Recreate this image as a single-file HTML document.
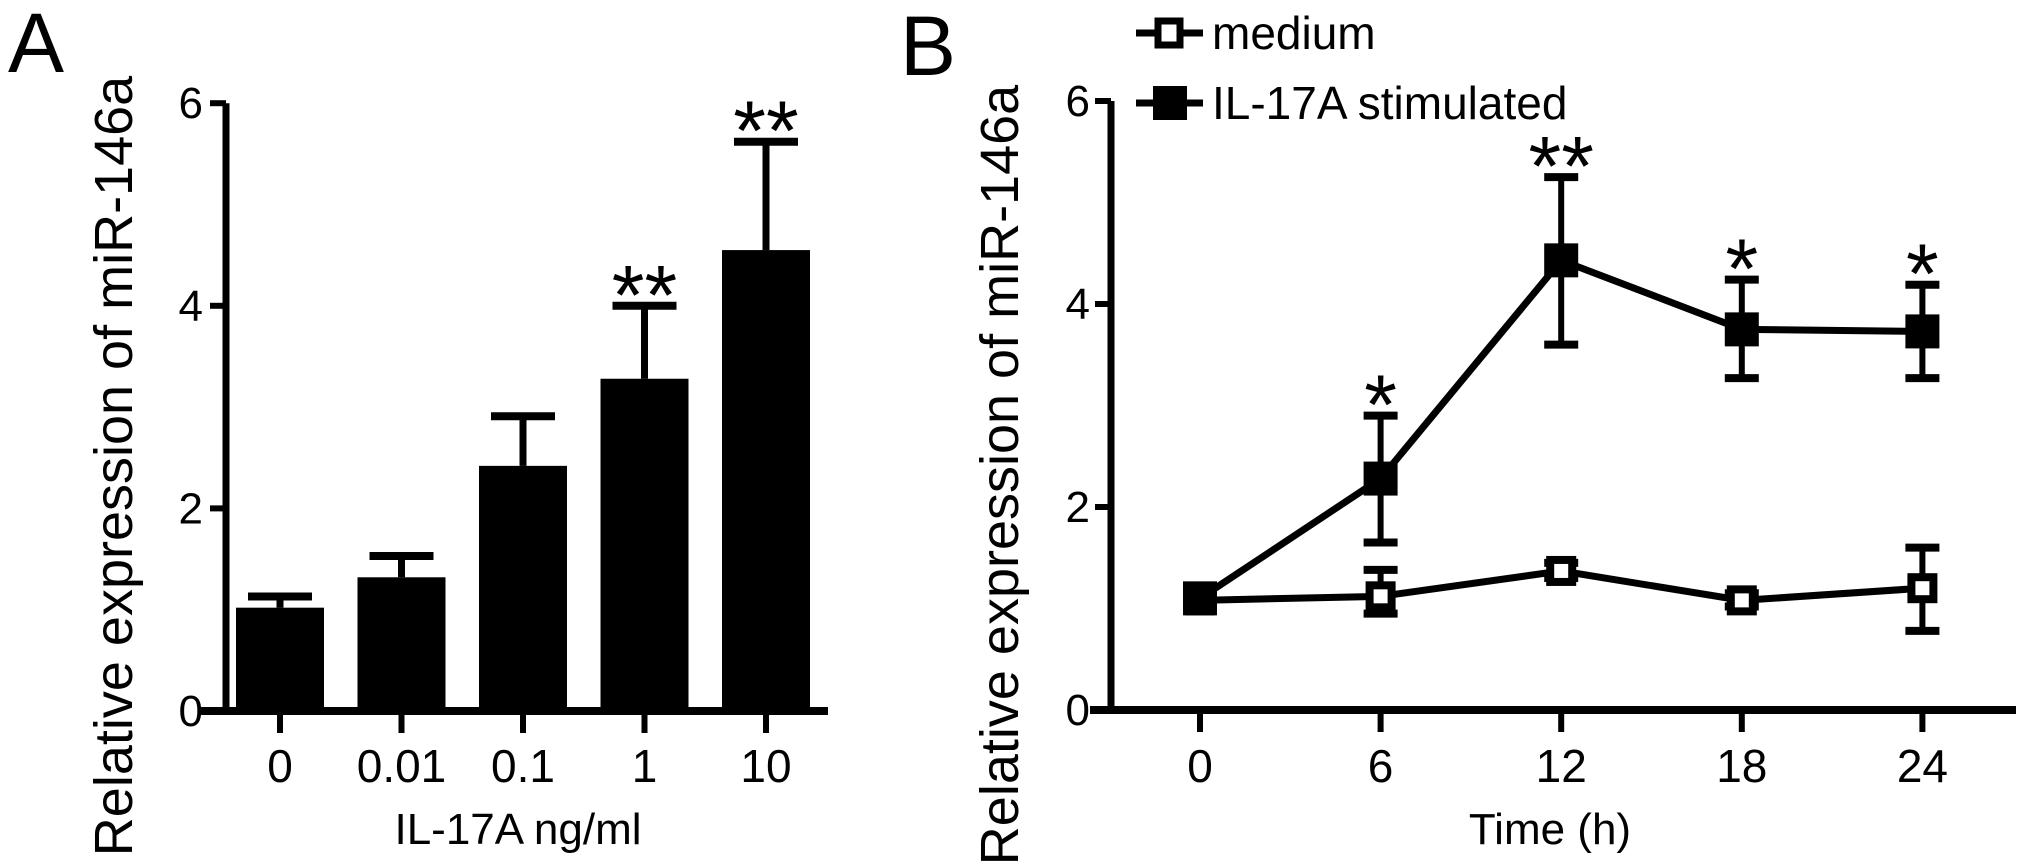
<!DOCTYPE html>
<html><head><meta charset="utf-8"><style>
html,body{margin:0;padding:0;background:#fff}
svg{display:block}
text{font-family:"Liberation Sans",Arial,sans-serif;fill:#000}
</style></head><body>
<svg id="fig" width="2031" height="865" viewBox="0 0 2031 865" xmlns="http://www.w3.org/2000/svg">
<text x="8" y="72" font-size="84">A</text>
<text x="900" y="75" font-size="84">B</text>
<g id="pa"></g>
<g id="pb"></g>
</svg>
<script>
// Panel A data
const aCategories = ["0","0.01","0.1","1","10"];
const aValues = [1.02, 1.32, 2.42, 3.28, 4.55];
const aErrTop = [1.13, 1.53, 2.91, 4.0, 5.62];
const aSig = ["", "", "", "**", "**"];
const yTicks = [0, 2, 4, 6];
// Panel B data
const bTimes = [0, 6, 12, 18, 24];
const bMedium = [1.08, 1.12, 1.37, 1.08, 1.2];
const bMediumLo = [1.08, 0.95, 1.3, 1.02, 0.78];
const bMediumHi = [1.08, 1.38, 1.45, 1.15, 1.6];
const bStim = [1.1, 2.28, 4.43, 3.75, 3.73];
const bStimLo = [1.1, 1.65, 3.6, 3.27, 3.27];
const bStimHi = [1.1, 2.9, 5.25, 4.24, 4.19];
const bSig = ["", "*", "**", "*", "*"];

const NS = "http://www.w3.org/2000/svg";
function mk(parent, tag, attrs, txt){
  const e = document.createElementNS(NS, tag);
  for (const k in attrs) e.setAttribute(k, attrs[k]);
  if (txt !== undefined) e.textContent = txt;
  parent.appendChild(e); return e;
}
// ---------- Panel A ----------
const pa = document.getElementById('pa');
const ayA = v => 711 - v * 101.3;
const axA = i => 280 + i * 121.5;
let e;
e = mk(pa,'line',{x1:226,y1:ayA(6),x2:226,y2:ayA(0)+3,stroke:'#000','stroke-width':7});
 
e = mk(pa,'line',{x1:200,y1:ayA(0),x2:828,y2:ayA(0),stroke:'#000','stroke-width':8});
 
yTicks.forEach(t=>{
  e = mk(pa,'line',{x1:210,y1:ayA(t),x2:226,y2:ayA(t),stroke:'#000','stroke-width':6});
   
  e = mk(pa,'text',{x:203,y:ayA(t)+15,'font-size':44,'text-anchor':'end'},String(t));
   
});
aCategories.forEach((c,i)=>{
  const x = axA(i);
  e = mk(pa,'line',{x1:x,y1:ayA(0),x2:x,y2:ayA(0)+22,stroke:'#000','stroke-width':6});
   
  e = mk(pa,'text',{x:x,y:782,'font-size':46,'text-anchor':'middle'},c);
   
  e = mk(pa,'line',{x1:x,y1:ayA(aErrTop[i]),x2:x,y2:ayA(aValues[i]),stroke:'#000','stroke-width':7});
   
  e = mk(pa,'line',{x1:x-32,y1:ayA(aErrTop[i]),x2:x+32,y2:ayA(aErrTop[i]),stroke:'#000','stroke-width':8});
   
  e = mk(pa,'rect',{x:x-44,y:ayA(aValues[i]),width:88,height:ayA(0)-ayA(aValues[i]),fill:'#000'});
   
  if (aSig[i]) {
    e = mk(pa,'text',{x:x,y:ayA(aErrTop[i])+18,'font-size':84,'text-anchor':'middle'},aSig[i]);
     
  }
});
e = mk(pa,'text',{x:0,y:0,'font-size':54,'text-anchor':'middle',transform:'translate(132,466) rotate(-90)'},'Relative expression of miR-146a');
 
e = mk(pa,'text',{x:518,y:844,'font-size':44,'text-anchor':'middle'},'IL-17A ng/ml');
 

// ---------- Panel B ----------
const pb = document.getElementById('pb');
const ayB = v => 710 - v * 101.5;
const axB = t => 1200 + t * 30.1;
e = mk(pb,'line',{x1:1111,y1:ayB(6),x2:1111,y2:ayB(0)+3,stroke:'#000','stroke-width':7});
 
e = mk(pb,'line',{x1:1090,y1:ayB(0),x2:2016,y2:ayB(0),stroke:'#000','stroke-width':8});
 
yTicks.forEach(t=>{
  e = mk(pb,'line',{x1:1095,y1:ayB(t),x2:1111,y2:ayB(t),stroke:'#000','stroke-width':6});
   
  e = mk(pb,'text',{x:1090,y:ayB(t)+15,'font-size':44,'text-anchor':'end'},String(t));
   
});
bTimes.forEach(t=>{
  const x = axB(t);
  e = mk(pb,'line',{x1:x,y1:ayB(0),x2:x,y2:ayB(0)+22,stroke:'#000','stroke-width':6});
   
  e = mk(pb,'text',{x:x,y:782,'font-size':46,'text-anchor':'middle'},String(t));
   
});
function series(vals, lo, hi, filled, name){
  const pts = bTimes.map((t,i)=>axB(t)+','+ayB(vals[i])).join(' ');
  e = mk(pb,'polyline',{points:pts,fill:'none',stroke:'#000','stroke-width':7,'stroke-linejoin':'miter'});
   
  bTimes.forEach((t,i)=>{
    const x = axB(t);
    if (hi[i] !== lo[i]) {
      e = mk(pb,'line',{x1:x,y1:ayB(hi[i]),x2:x,y2:ayB(lo[i]),stroke:'#000','stroke-width':6});
       
      [hi[i],lo[i]].forEach(v=>{
        e = mk(pb,'line',{x1:x-17,y1:ayB(v),x2:x+17,y2:ayB(v),stroke:'#000','stroke-width':8});
         
      });
    }
  });
}
function markers(vals, filled, name, size){
  bTimes.forEach((t,i)=>{
    const x = axB(t), y = ayB(vals[i]);
    if (filled) e = mk(pb,'rect',{x:x-size/2,y:y-size/2,width:size,height:size,fill:'#000'});
    else e = mk(pb,'rect',{x:x-size/2+4,y:y-size/2+4,width:size-8,height:size-8,fill:'#fff',stroke:'#000','stroke-width':8});
     
  });
}
series(bMedium,bMediumLo,bMediumHi,false,'medium');
series(bStim,bStimLo,bStimHi,true,'stimulated');
markers(bMedium,false,'medium',30);
markers(bStim,true,'stimulated',34);
bTimes.forEach((t,i)=>{
  if (bSig[i]) {
    e = mk(pb,'text',{x:axB(t),y:ayB(bStimHi[i])+18,'font-size':84,'text-anchor':'middle'},bSig[i]);
     
  }
});
e = mk(pb,'text',{x:0,y:0,'font-size':54,'text-anchor':'middle',transform:'translate(1018,475) rotate(-90)'},'Relative expression of miR-146a');
 
e = mk(pb,'text',{x:1550,y:844,'font-size':44,'text-anchor':'middle'},'Time (h)');
 
// legend
const lg = mk(pb,'g',{});
 
e = mk(lg,'line',{x1:1136,y1:33,x2:1203,y2:33,stroke:'#000','stroke-width':7});
 
e = mk(lg,'rect',{x:1158,y:21,width:22,height:24,fill:'#fff',stroke:'#000','stroke-width':7});
 
e = mk(lg,'text',{x:1212,y:49,'font-size':46},'medium');
 
e = mk(lg,'line',{x1:1136,y1:103,x2:1203,y2:103,stroke:'#000','stroke-width':7});
 
e = mk(lg,'rect',{x:1153,y:86,width:34,height:34,fill:'#000'});
 
e = mk(lg,'text',{x:1212,y:119,'font-size':46},'IL-17A stimulated');
 
</script>
</body></html>
